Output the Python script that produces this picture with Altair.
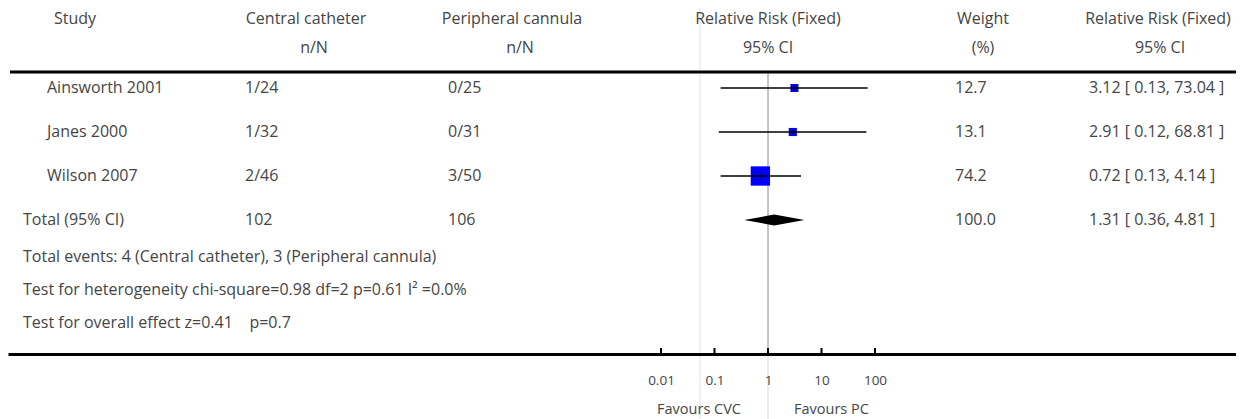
import altair as alt
import pandas as pd

# ---------------- data ----------------
studies = ["Ainsworth 2001", "Janes 2000", "Wilson 2007"]
cvc_nN = ["1/24", "1/32", "2/46"]
pc_nN = ["0/25", "0/31", "3/50"]
rr = [3.12, 2.91, 0.72]
ci_lo = [0.13, 0.12, 0.13]
ci_hi = [73.04, 68.81, 4.14]
weight = [12.7, 13.1, 74.2]
weight_txt = ["12.7", "13.1", "74.2"]
ci_txt = ["3.12 [ 0.13, 73.04 ]", "2.91 [ 0.12, 68.81 ]", "0.72 [ 0.13, 4.14 ]"]

total_label = "Total (95% CI)"
total_cvc = "102"
total_pc = "106"
total_rr = 1.31
total_lo = 0.36
total_hi = 4.81
total_weight_txt = "100.0"
total_ci_txt = "1.31 [ 0.36, 4.81 ]"

footnotes = [
    "Total events: 4 (Central catheter), 3 (Peripheral cannula)",
    "Test for heterogeneity chi-square=0.98 df=2 p=0.61 I\u00b2 =0.0%",
    "Test for overall effect z=0.41\u00a0\u00a0\u00a0\u00a0p=0.7",
]
head1 = ["Study", "Central catheter", "Peripheral cannula",
         "Relative Risk (Fixed)", "Weight", "Relative Risk (Fixed)"]
head2 = ["n/N", "n/N", "95% CI", "(%)", "95% CI"]
tick_values = [0.01, 0.1, 1, 10, 100]
tick_labels = ["0.01", "0.1", "1", "10", "100"]
favours = ["Favours CVC", "Favours PC"]

# ---------------- layout / style ----------------
W, H = 1228, 411
X1 = 760.0          # pixel of RR = 1
DEC = 53.5          # pixels per decade
ROW0, ROWH = 80.0, 44.0
AXIS_Y = 346
FONT = "Open Sans"
FS = 16
FS_SMALL = 14.5
TXT = "#454545"

xscale = alt.Scale(type="log", domain=[10 ** (-X1 / DEC), 10 ** ((W - X1) / DEC)],
                   nice=False, zero=False)
yscale = alt.Scale(type="linear", domain=[-ROW0 / ROWH, (H - ROW0) / ROWH],
                   reverse=True, nice=False, zero=False)

label_expr = " : ".join(
    f"datum.value == {v} ? '{l}'" for v, l in zip(tick_values, tick_labels)
) + " : ''"
xaxis = alt.Axis(values=tick_values, labelExpr=label_expr, orient="bottom",
                 offset=-(H - AXIS_Y), domainColor="black", domainWidth=3,
                 ticks=False, grid=False, labelFont=FONT, labelFontSize=13.5,
                 labelColor=TXT, labelPadding=26, labelBaseline="middle",
                 labelFlush=False, labelOverlap=False, title=None, zindex=1)


def X(field):
    return alt.X(field, type="quantitative", scale=xscale, axis=xaxis)


def Y(field):
    return alt.Y(field, type="quantitative", scale=yscale, axis=None)


rows = pd.DataFrame({
    "row": list(range(len(studies))),
    "study": studies, "cvc": cvc_nN, "pc": pc_nN,
    "rr": rr, "lo": ci_lo, "hi": ci_hi,
    "weight": weight, "wtxt": weight_txt, "citxt": ci_txt,
})
total_row = len(studies)
total = pd.DataFrame({
    "row": [total_row], "label": [total_label], "cvc": [total_cvc], "pc": [total_pc],
    "wtxt": [total_weight_txt], "citxt": [total_ci_txt],
})
HALF = 0.125
diamond = pd.DataFrame({
    "x": [total_lo, total_rr, total_hi],
    "y": [total_row, total_row - HALF, total_row],
    "y2": [total_row, total_row + HALF, total_row],
})
ticks_df = pd.DataFrame({"v": tick_values})
one_df = pd.DataFrame({"v": [1]})


def text_at(s, x, y, align="center", size=FS):
    return alt.Chart(pd.DataFrame({"t": [s]})).mark_text(
        align=align, baseline="middle", font=FONT, fontSize=size, color=TXT
    ).encode(text="t:N", x=alt.value(x), y=alt.value(y))


layers = []

# faint artifact line
layers.append(alt.Chart(one_df).mark_rule(color="#ececec", strokeWidth=1.5).encode(
    x=alt.value(692), y=alt.value(0), y2=alt.value(H)))
# faint continuation of the null line under the axis
layers.append(alt.Chart(one_df).mark_rule(color="#e6e6e6", strokeWidth=1.5).encode(
    x=X("v"), y=alt.value(AXIS_Y), y2=alt.value(H)))
# null line
layers.append(alt.Chart(one_df).mark_rule(color="#8a8a8a", strokeWidth=1).encode(
    x=X("v"), y=alt.value(64), y2=alt.value(AXIS_Y)))
# top horizontal line
layers.append(alt.Chart(one_df).mark_rule(color="black", strokeWidth=3).encode(
    x=alt.value(2), x2=alt.value(W), y=alt.value(64)))
# axis tick marks (pointing up)
layers.append(alt.Chart(ticks_df).mark_rule(color="black", strokeWidth=2).encode(
    x=X("v"), y=alt.value(AXIS_Y - 6), y2=alt.value(AXIS_Y)))

# squares
layers.append(alt.Chart(rows).mark_square(color="#0000ff", opacity=1, filled=True).encode(
    x=X("rr"), y=Y("row"),
    size=alt.Size("weight:Q", scale=alt.Scale(type="linear", domain=[0, 100], range=[0, 504]),
                  legend=None)))
# CI lines
layers.append(alt.Chart(rows).mark_rule(color="black", strokeWidth=1.3).encode(
    x=X("lo"), x2="hi", y=Y("row")))
# point ticks
layers.append(alt.Chart(rows).mark_tick(color="black", orient="vertical", size=5,
                                        thickness=1.2).encode(x=X("rr"), y=Y("row")))
# diamond
layers.append(alt.Chart(diamond).mark_area(color="black", orient="vertical",
                                           interpolate="linear", opacity=1).encode(
    x=X("x"), y=Y("y"), y2="y2"))

# row texts
def col_text(df, field, x, align="left"):
    return alt.Chart(df).mark_text(align=align, baseline="middle", font=FONT,
                                   fontSize=FS, color=TXT).encode(
        x=alt.value(x), y=Y("row"), text=f"{field}:N")

layers += [
    col_text(rows, "study", 39), col_text(rows, "cvc", 237), col_text(rows, "pc", 440),
    col_text(rows, "wtxt", 947), col_text(rows, "citxt", 1081),
    col_text(total, "label", 15), col_text(total, "cvc", 237), col_text(total, "pc", 440),
    col_text(total, "wtxt", 947), col_text(total, "citxt", 1081),
]

# headers
h1x = [67, 298, 504, 760, 975, 1150]
h2x = [306, 512, 760, 975, 1152]
for s, x in zip(head1, h1x):
    layers.append(text_at(s, x, 11))
for s, x in zip(head2, h2x):
    layers.append(text_at(s, x, 40))

# footnotes
for s, y in zip(footnotes, [249, 282, 315]):
    layers.append(text_at(s, 15, y, align="left"))

# favours
layers.append(text_at(favours[0], 733, 402, align="right", size=FS_SMALL))
layers.append(text_at(favours[1], 786, 402, align="left", size=FS_SMALL))

chart = alt.layer(*layers).properties(
    width=W, height=H, padding=0,
    autosize=alt.AutoSizeParams(type="none"),
).configure_view(stroke=None)

chart.save("out.html", embed_options={"renderer": "svg", "actions": False})
